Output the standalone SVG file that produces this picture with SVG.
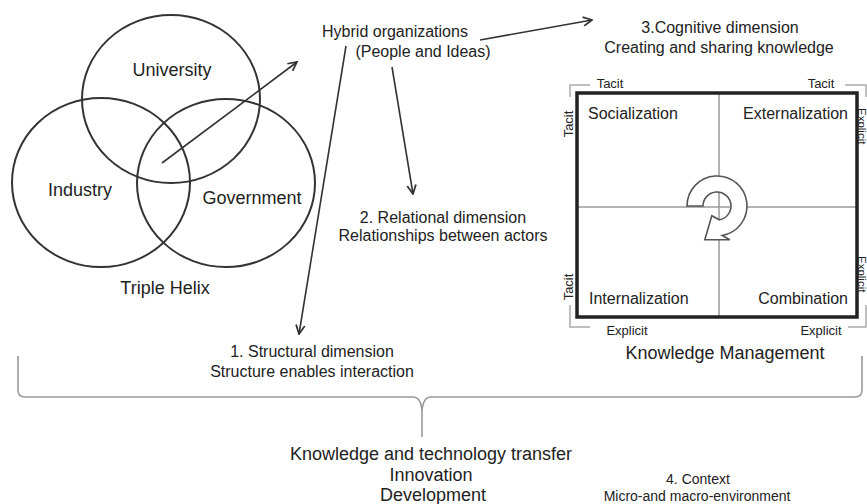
<svg xmlns="http://www.w3.org/2000/svg" width="867" height="504" viewBox="0 0 867 504">
<style>
  text { font-family: "Liberation Sans", Arial, sans-serif; fill: #222; }
  .lbl { font-size: 16px; }
  .big { font-size: 18px; }
  .sm { font-size: 13px; }
  .xs { font-size: 11.5px; }
  .mid { text-anchor: middle; }
  .end { text-anchor: end; }
  .circ { fill: none; stroke: #333; stroke-width: 2; }
  .conn { fill: none; stroke: #333; stroke-width: 1.6; marker-end: url(#arr); }
  .grid { stroke: #9a9a9a; stroke-width: 1.5; }
  .brk { fill: none; stroke: #aaa; stroke-width: 1.5; }
  .brace { fill: none; stroke: #999; stroke-width: 1.6; }
</style>
<defs>
  <marker id="arr" viewBox="0 0 10 10" refX="9" refY="5" markerWidth="11" markerHeight="11" markerUnits="userSpaceOnUse" orient="auto">
    <path d="M1,1 L9,5 L1,9" fill="none" stroke="#333" stroke-width="1.6"/>
  </marker>
</defs>
<rect width="867" height="504" fill="#fff"/>

<g id="triple-helix">
  <ellipse class="circ" cx="171" cy="99" rx="89" ry="84"/>
  <ellipse class="circ" cx="101" cy="182.5" rx="89" ry="84.5"/>
  <ellipse class="circ" cx="226" cy="183" rx="89" ry="84"/>
  <text class="big mid" x="172" y="76">University</text>
  <text class="big mid" x="80" y="196">Industry</text>
  <text class="big mid" x="252" y="204">Government</text>
  <text class="big mid" x="165" y="294">Triple Helix</text>
</g>

<g id="hybrid">
  <text class="lbl mid" x="395" y="37">Hybrid organizations</text>
  <text class="lbl mid" x="423" y="57">(People and Ideas)</text>
</g>

<g id="cognitive">
  <text class="lbl mid" x="720" y="33">3.Cognitive dimension</text>
  <text class="lbl mid" x="719" y="53">Creating and sharing knowledge</text>
</g>

<g id="relational">
  <text class="lbl mid" x="443" y="223">2. Relational dimension</text>
  <text class="lbl mid" x="443" y="241">Relationships between actors</text>
</g>

<g id="structural">
  <text class="lbl mid" x="312" y="357">1. Structural dimension</text>
  <text class="lbl mid" x="312" y="377">Structure enables interaction</text>
</g>

<g id="knowledge-management">
  <path class="brk" d="M590,85 H570 V97 M570,305 V327 H590 M845,85 H866 V97 M866,305 V327 H848"/>
  <text class="sm mid" x="610" y="88">Tacit</text>
  <text class="sm mid" x="821" y="88">Tacit</text>
  <text class="sm mid" x="627" y="335">Explicit</text>
  <text class="sm mid" x="821" y="335">Explicit</text>
  <text class="sm mid" transform="translate(573,124) rotate(-90)">Tacit</text>
  <text class="sm mid" transform="translate(573,287) rotate(-90)">Tacit</text>
  <text class="xs" transform="translate(858,108) rotate(90)">Explicit</text>
  <text class="xs" transform="translate(858,256) rotate(90)">Explicit</text>
  <line class="grid" x1="719" y1="93" x2="719" y2="317"/>
  <line class="grid" x1="577" y1="207" x2="857" y2="207"/>
  <rect x="577" y="93" width="280" height="224" fill="none" stroke="#222" stroke-width="3.5"/>
  <path d="M687,206 A30,30 0 1 1 722.2,235.5 L729.8,239.7 L704.8,239.7 L711.8,215.7 L719.4,219.8 A14,14 0 1 0 703,206 Z" fill="#fff" stroke="#555" stroke-width="1.6" stroke-linejoin="miter"/>
  <text class="lbl" x="588" y="119">Socialization</text>
  <text class="lbl end" x="848" y="119">Externalization</text>
  <text class="lbl" x="589" y="304">Internalization</text>
  <text class="lbl end" x="848" y="304">Combination</text>
  <text class="big mid" x="725" y="359">Knowledge Management</text>
</g>

<g id="outcomes">
  <text class="big mid" x="431" y="460">Knowledge and technology transfer</text>
  <text class="big mid" x="431" y="481">Innovation</text>
  <text class="big mid" x="433" y="501">Development</text>
</g>

<g id="context">
  <text class="mid" x="698" y="484" style="font-size:14px">4. Context</text>
  <text class="mid" x="697" y="501" style="font-size:14px">Micro-and macro-environment</text>
</g>

<g id="connectors">
  <line class="conn" x1="162" y1="163" x2="297" y2="62"/>
  <line class="conn" x1="346" y1="46" x2="299" y2="334"/>
  <line class="conn" x1="392" y1="67" x2="413" y2="194"/>
  <line class="conn" x1="480" y1="40" x2="592" y2="20"/>
  <path class="brace" d="M18,356 V390 Q18,397 25,397 H413 Q421,397 422,411 V437 M422,411 Q423,397 431,397 H855 Q862,397 862,390 V356"/>
</g>
</svg>
